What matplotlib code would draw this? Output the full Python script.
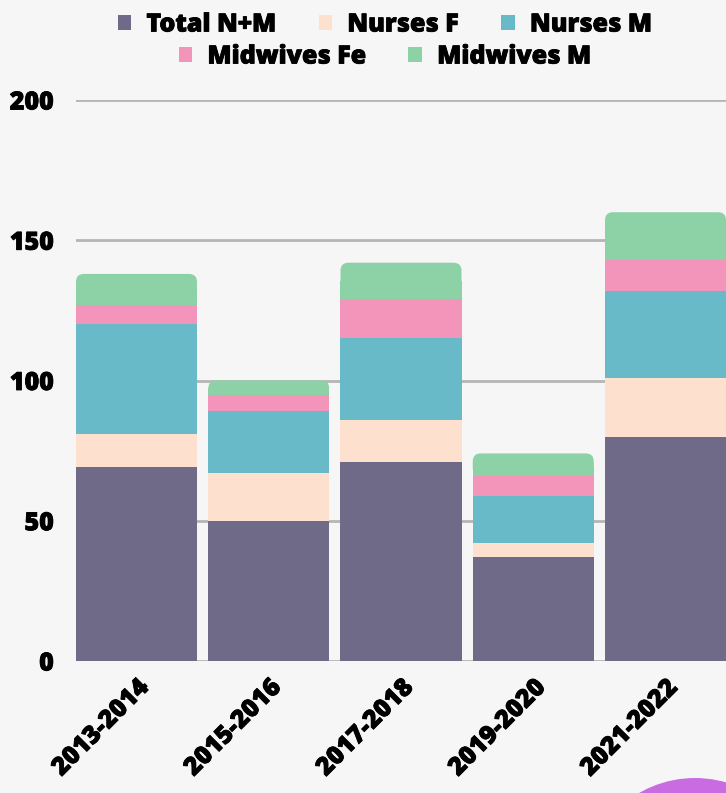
import matplotlib.pyplot as plt
import matplotlib.patheffects as pe
import numpy as np
from matplotlib.patches import FancyBboxPatch, Rectangle, Circle

plt.rcParams['font.family'] = ['Open Sans', 'DejaVu Sans']
plt.rcParams['font.weight'] = 'bold'

# data
periods = ['2013-2014', '2015-2016', '2017-2018', '2019-2020', '2021-2022']
total_nm = [69, 50, 71, 37, 80]
nurses_f = [12, 17, 15, 5, 21]
nurses_m = [39, 22, 29, 17, 31]
midwives_fe = [7, 6, 14, 7, 11]
midwives_m = [11, 5, 13, 8, 17]

names = ['Total N+M', 'Nurses F', 'Nurses M', 'Midwives Fe', 'Midwives M']
colors = ['#6e6a87', '#fee0cf', '#68bac9', '#f394bb', '#8dd2a7']
series = [total_nm, nurses_f, nurses_m, midwives_fe, midwives_m]

bg = '#f6f6f6'
heavy = [pe.withStroke(linewidth=0.6, foreground='black')]

fig = plt.figure(figsize=(7.26, 7.93), dpi=100, facecolor=bg)
ax = fig.add_axes([76 / 726, 1 - 661 / 793, 650 / 726, 561 / 793], facecolor=bg)

x = np.arange(len(periods))
w = 0.915
bottom = np.zeros(len(periods))
for k, (vals, c) in enumerate(zip(series, colors)):
    vals = np.array(vals, dtype=float)
    if k < len(series) - 1:
        ax.bar(x, vals, w, bottom=bottom, color=c, zorder=3, linewidth=0)
    else:
        # top segment gets rounded top corners
        for i in range(len(x)):
            x0 = x[i] - w / 2
            p = FancyBboxPatch((x0, bottom[i]), w, vals[i],
                               boxstyle='round,pad=0,rounding_size=0.06',
                               mutation_aspect=2.85 / 0.06,
                               facecolor=c, edgecolor='none', zorder=3)
            ax.add_patch(p)
            ax.add_patch(Rectangle((x0, bottom[i]), w, vals[i] / 2,
                                   facecolor=c, edgecolor='none', zorder=3))
    bottom += vals

ax.set_xlim(-w / 2, len(x) - 1 + w / 2)
ax.set_ylim(0, 200)
ax.set_yticks([0, 50, 100, 150, 200])
ax.yaxis.grid(True, color='#b5b5b5', linewidth=2, zorder=0)
ax.tick_params(axis='y', length=0, pad=16, labelsize=18)
ax.tick_params(axis='x', length=0, pad=10, labelsize=18)
ax.set_xticks(x)
ax.set_xticklabels(periods, rotation=45, ha='right', rotation_mode='anchor')
for lab in ax.get_xticklabels() + ax.get_yticklabels():
    lab.set_fontweight('heavy')
    lab.set_path_effects(heavy)
for s in ax.spines.values():
    s.set_visible(False)

# legend in two centred rows
handles = [Rectangle((0, 0), 1, 1, facecolor=c, edgecolor='none') for c in colors]
for sl, yy in [(slice(0, 3), 25), (slice(3, 5), 57)]:
    lg = fig.legend(handles[sl], names[sl], loc='center',
                    bbox_to_anchor=(0.53, 1 - yy / 793),
                    ncol=3, frameon=False, handlelength=0.55, handleheight=0.55,
                    handletextpad=0.6, columnspacing=1.7,
                    prop={'weight': 'heavy', 'size': 18})
    for t in lg.get_texts():
        t.set_path_effects(heavy)

# decorative circle at the bottom right
fig.patches.append(Circle((6.95, -0.97), 1.12, transform=fig.dpi_scale_trans,
                          facecolor='#c96ce2', edgecolor='none', zorder=5))

fig.savefig('out.png', dpi=100, facecolor=bg)
